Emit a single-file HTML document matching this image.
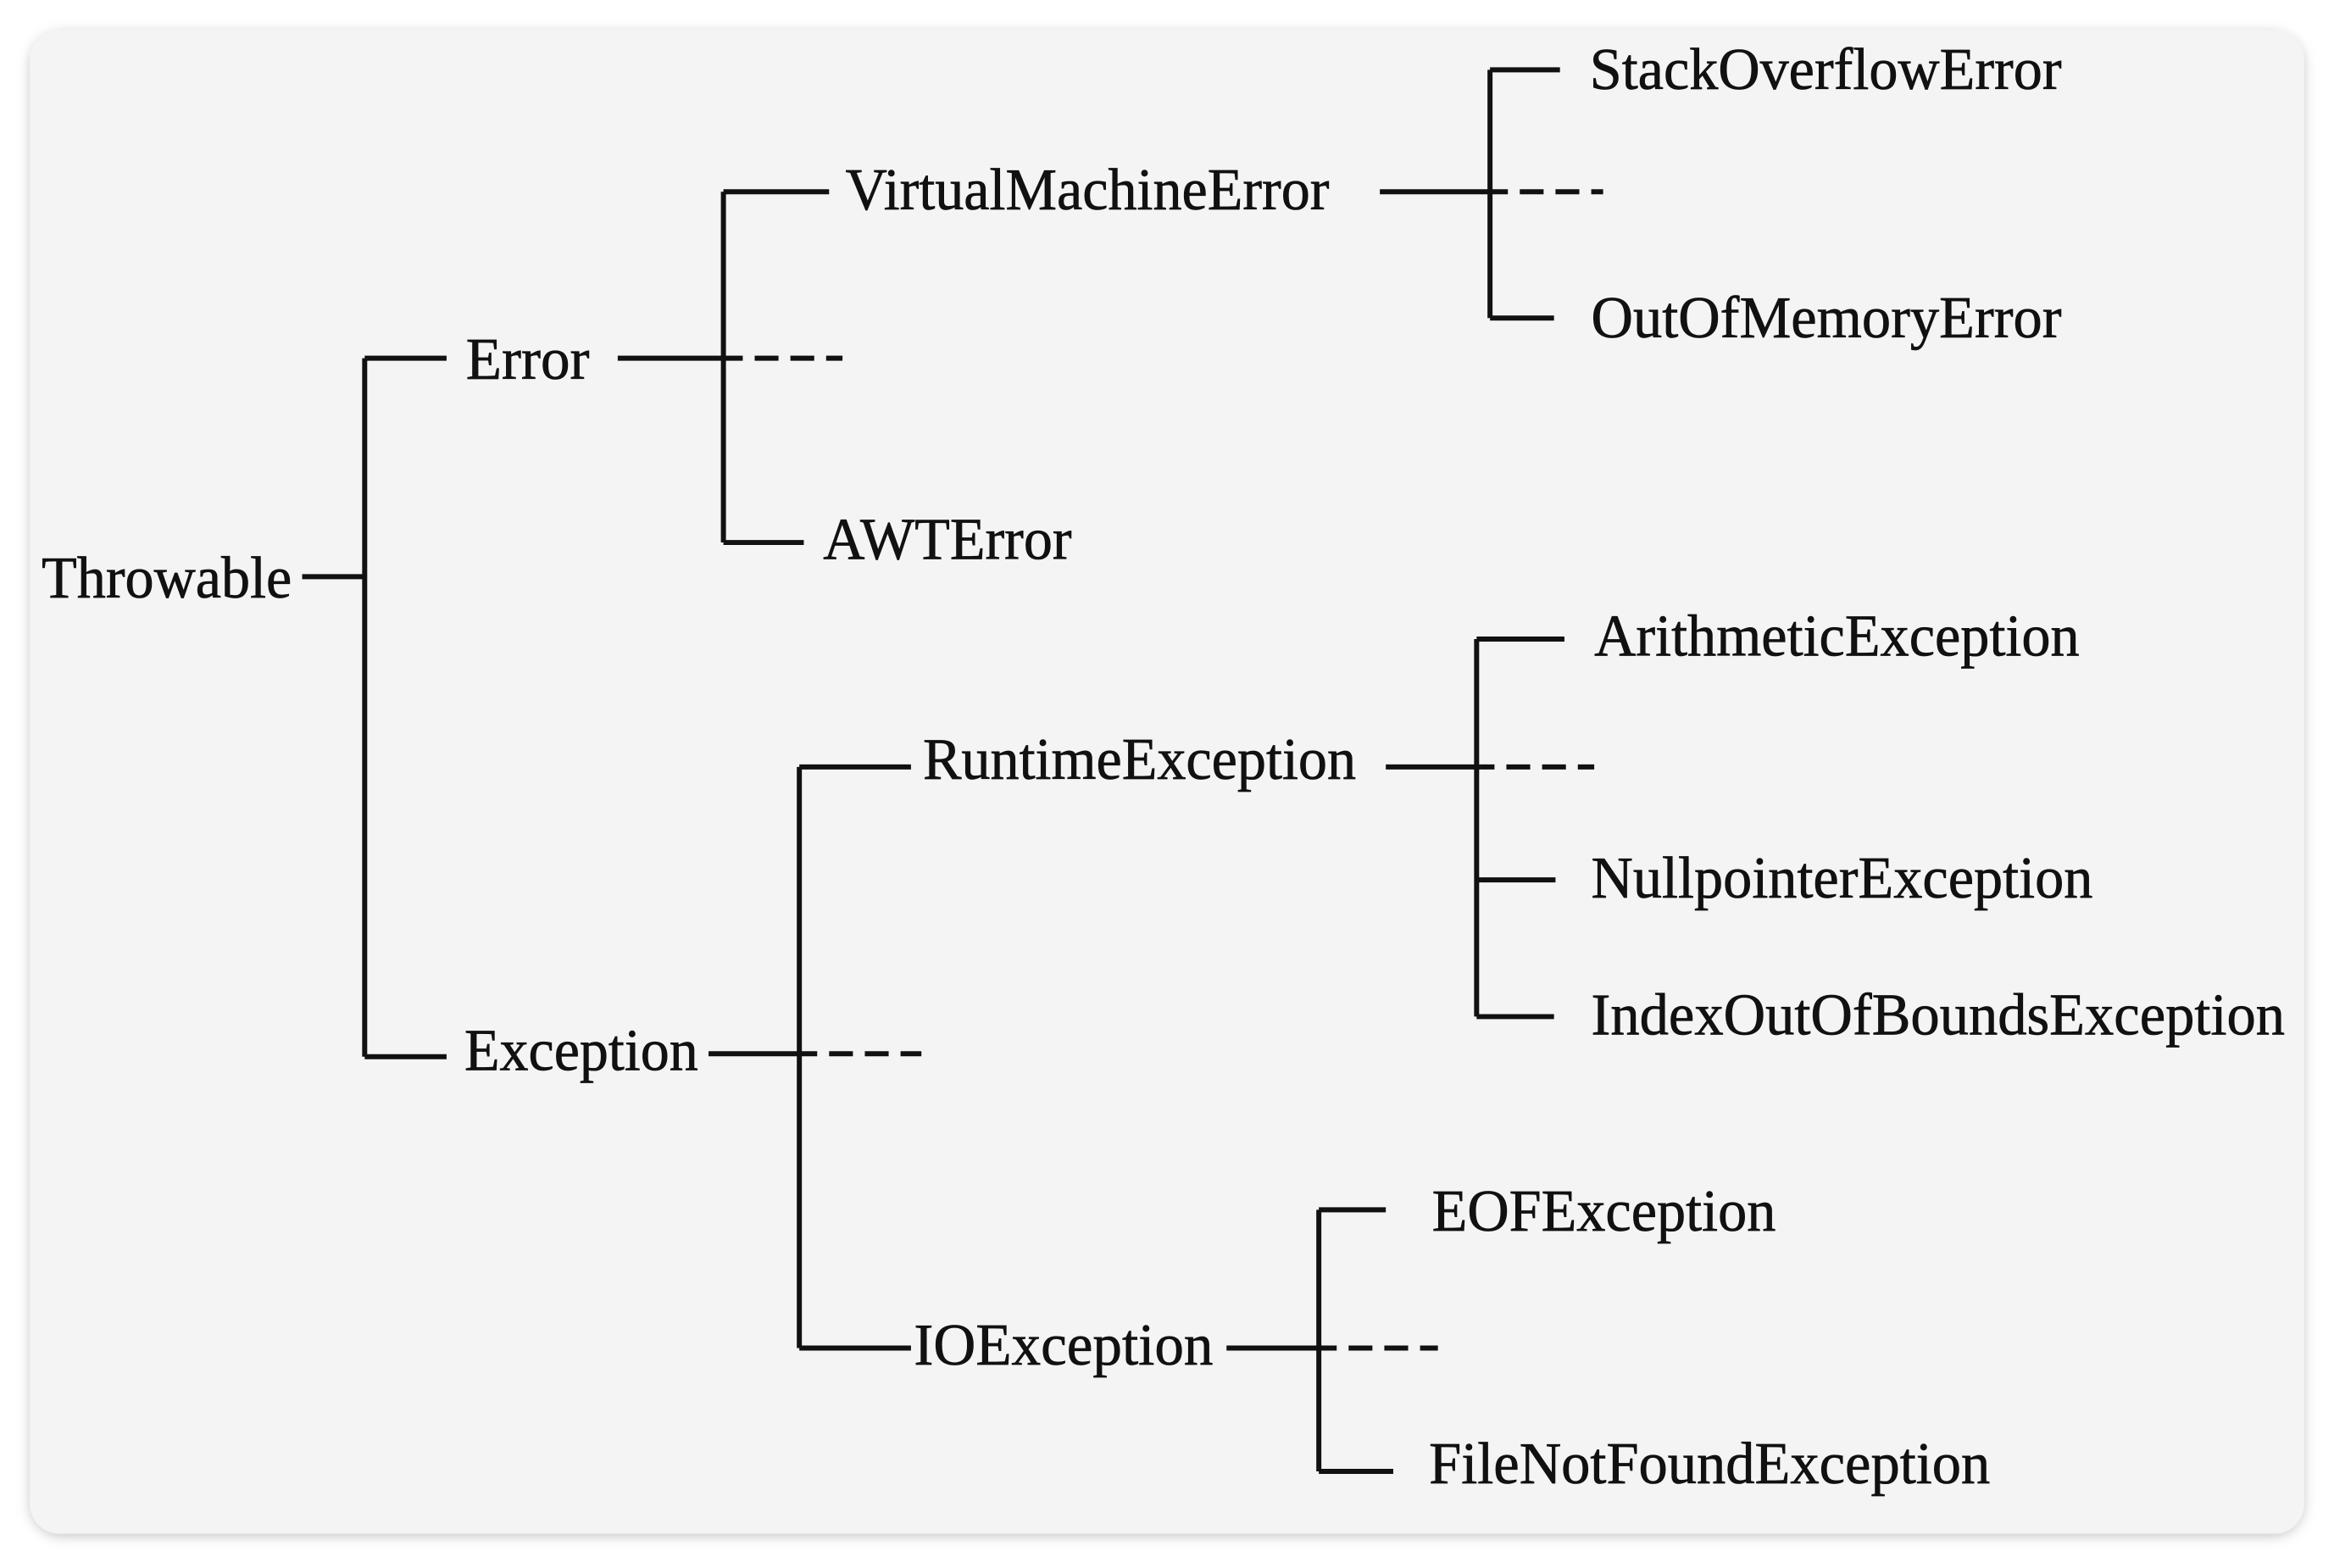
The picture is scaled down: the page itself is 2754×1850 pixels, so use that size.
<!DOCTYPE html>
<html><head><meta charset="utf-8"><style>
html,body{margin:0;padding:0;background:#fff;width:2754px;height:1850px;overflow:hidden}
svg{display:block}
text{font-family:"Liberation Serif",serif;font-size:40px;fill:#111;stroke:#111;stroke-width:0.4}
</style></head><body>
<svg width="2754" height="1850" viewBox="0 0 1568 1055" preserveAspectRatio="none">
<defs><filter id="sh" x="-5%" y="-5%" width="110%" height="110%"><feGaussianBlur stdDeviation="4"/></filter></defs>
<rect x="20" y="22" width="1528" height="1012" rx="22" fill="#c8c8c8" filter="url(#sh)"/>
<rect x="20" y="20" width="1528" height="1012" rx="20" fill="#f4f4f4"/>
<g stroke="#111" stroke-width="3.4" fill="none">
<path d="M203 388H245M245 241V711M245 241H300M245 711H300"/>
<path d="M415 241H499M486 129V365M486 129H557M486 365H540"/>
<path d="M927 129H1013M1001 47V214M1001 47H1048M1001 214H1044"/>
<path d="M476 709H549M537 516V907M537 516H612M537 907H612"/>
<path d="M931 516H1004M992 430V684M992 430H1051M992 592H1045M992 684H1044"/>
<path d="M824 907H898M886 814V990M886 814H931M886 990H936"/>
<g stroke-dasharray="16 8">
<path d="M507 241H566"/>
<path d="M1021 129H1077"/>
<path d="M557 709H619"/>
<path d="M1012 516H1071"/>
<path d="M906 907H966"/>
</g>
</g>
<text x="28" y="402" textLength="168" lengthAdjust="spacingAndGlyphs">Throwable</text>
<text x="313" y="255" textLength="83" lengthAdjust="spacingAndGlyphs">Error</text>
<text x="568" y="141" textLength="325" lengthAdjust="spacingAndGlyphs">VirtualMachineError</text>
<text x="553" y="376" textLength="167" lengthAdjust="spacingAndGlyphs">AWTError</text>
<text x="1068" y="60" textLength="317" lengthAdjust="spacingAndGlyphs">StackOverflowError</text>
<text x="1069" y="227" textLength="316" lengthAdjust="spacingAndGlyphs">OutOfMemoryError</text>
<text x="312" y="720" textLength="157" lengthAdjust="spacingAndGlyphs">Exception</text>
<text x="620" y="524" textLength="291" lengthAdjust="spacingAndGlyphs">RuntimeException</text>
<text x="614" y="918" textLength="201" lengthAdjust="spacingAndGlyphs">IOException</text>
<text x="1071" y="441" textLength="326" lengthAdjust="spacingAndGlyphs">ArithmeticException</text>
<text x="1069" y="604" textLength="337" lengthAdjust="spacingAndGlyphs">NullpointerException</text>
<text x="1069" y="696" textLength="466" lengthAdjust="spacingAndGlyphs">IndexOutOfBoundsException</text>
<text x="962" y="828" textLength="231" lengthAdjust="spacingAndGlyphs">EOFException</text>
<text x="960" y="998" textLength="377" lengthAdjust="spacingAndGlyphs">FileNotFoundException</text>
</svg>
</body></html>
